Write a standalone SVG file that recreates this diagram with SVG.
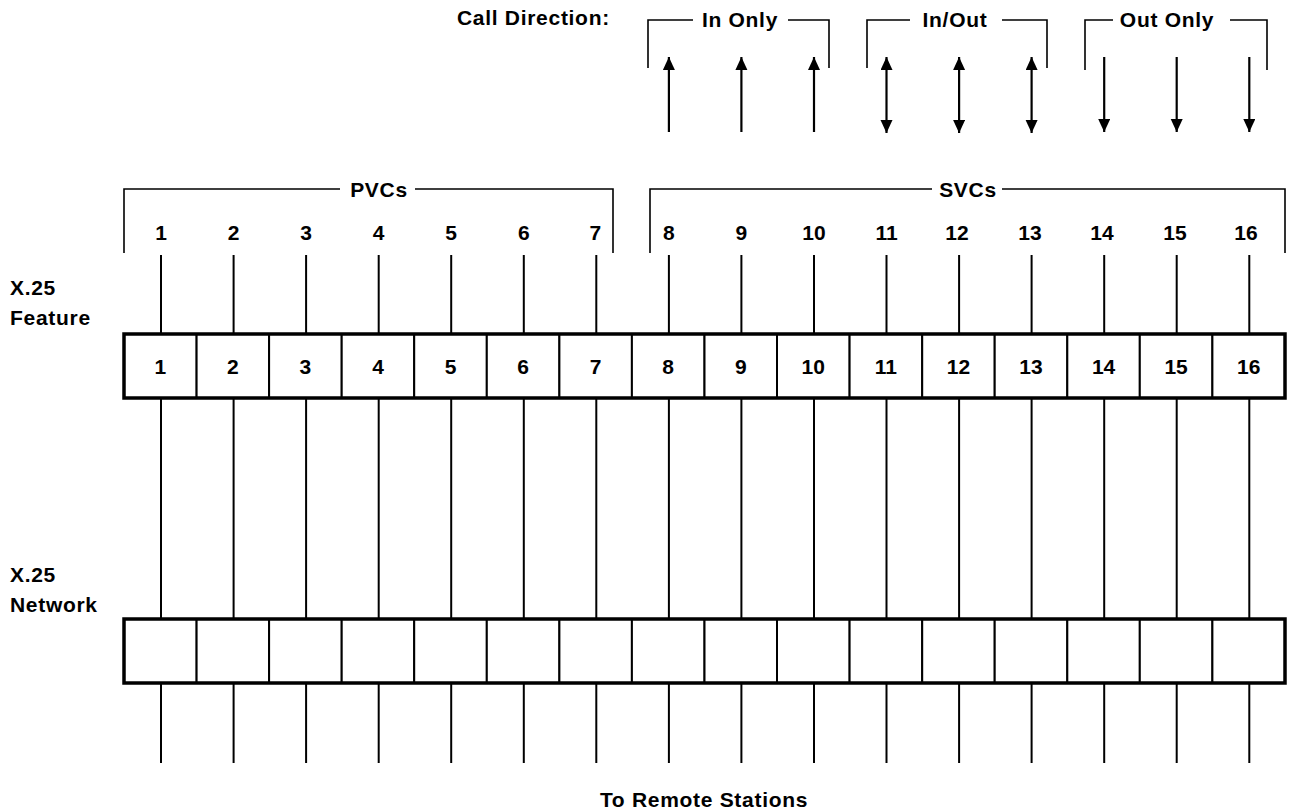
<svg xmlns="http://www.w3.org/2000/svg" width="1291" height="812" viewBox="0 0 1291 812">
<style>
text{font-family:"Liberation Sans",Arial,sans-serif;fill:#000;font-weight:bold;}
.w{font-size:21px;letter-spacing:0.7px;}
.d{font-size:21px;text-anchor:middle;}
.b{font-size:21px;text-anchor:middle;}
.m{text-anchor:middle;}
.br{fill:none;stroke:#000;stroke-width:1.6;}
.ln{stroke:#000;stroke-width:2;fill:none;}
.cell{fill:#fff;stroke:#000;stroke-width:2;}
.frame{fill:none;stroke:#000;stroke-width:3.5;}
.ar{stroke:#000;stroke-width:2.2;fill:none;}
</style>
<defs>
<marker id="ah" markerUnits="userSpaceOnUse" markerWidth="14" markerHeight="13" refX="13" refY="6" orient="auto-start-reverse">
<path d="M0,0 L13,6 L0,12 z" fill="#000"/>
</marker>
</defs>
<rect width="1291" height="812" fill="#fff"/>

<g id="call-direction">
<text class="w" x="457" y="25">Call Direction:</text>
</g>
<g id="bracket-in-only">
<path class="br" d="M648,68 V20 H693 M788,20 H829 V68"/>
<text class="w m" x="740" y="27">In Only</text>
</g>
<g id="bracket-in-out">
<path class="br" d="M867,68 V20 H910 M1002,20 H1047 V68"/>
<text class="w m" x="955" y="27">In/Out</text>
</g>
<g id="bracket-out-only">
<path class="br" d="M1085,70 V20 H1113 M1230,20 H1267 V70"/>
<text class="w m" x="1167" y="27">Out Only</text>
</g>

<g id="bracket-pvcs">
<path class="br" d="M124,253 V189 H340 M415,189 H613 V253"/>
<text class="w m" x="379" y="197">PVCs</text>
</g>
<g id="bracket-svcs">
<path class="br" d="M650,253 V189 H932 M1002,189 H1285 V253"/>
<text class="w m" x="968" y="197">SVCs</text>
</g>

<g id="channel-numbers">
<text class="d" x="161" y="240">1</text>
<text class="d" x="233.6" y="240">2</text>
<text class="d" x="306.1" y="240">3</text>
<text class="d" x="378.7" y="240">4</text>
<text class="d" x="451.2" y="240">5</text>
<text class="d" x="523.8" y="240">6</text>
<text class="d" x="595.3" y="240">7</text>
<text class="d" x="668.9" y="240">8</text>
<text class="d" x="741.4" y="240">9</text>
<text class="d" x="814" y="240">10</text>
<text class="d" x="886.5" y="240">11</text>
<text class="d" x="957" y="240">12</text>
<text class="d" x="1030" y="240">13</text>
<text class="d" x="1102" y="240">14</text>
<text class="d" x="1175" y="240">15</text>
<text class="d" x="1246" y="240">16</text>
</g>

<g id="label-feature">
<text class="w" x="10" y="295">X.25</text>
<text class="w" x="10" y="325">Feature</text>
</g>
<g id="label-network">
<text class="w" x="10" y="582">X.25</text>
<text class="w" x="10" y="612">Network</text>
</g>

<g id="feature-row">
<g id="f1"><rect class="cell" x="124" y="334" width="72.6" height="64"/><text class="b" x="160.3" y="374">1</text></g>
<g id="f2"><rect class="cell" x="196.6" y="334" width="72.5" height="64"/><text class="b" x="232.9" y="374">2</text></g>
<g id="f3"><rect class="cell" x="269.1" y="334" width="72.6" height="64"/><text class="b" x="305.4" y="374">3</text></g>
<g id="f4"><rect class="cell" x="341.7" y="334" width="72.5" height="64"/><text class="b" x="378" y="374">4</text></g>
<g id="f5"><rect class="cell" x="414.2" y="334" width="72.6" height="64"/><text class="b" x="450.5" y="374">5</text></g>
<g id="f6"><rect class="cell" x="486.8" y="334" width="72.6" height="64"/><text class="b" x="523.1" y="374">6</text></g>
<g id="f7"><rect class="cell" x="559.4" y="334" width="72.5" height="64"/><text class="b" x="595.7" y="374">7</text></g>
<g id="f8"><rect class="cell" x="631.9" y="334" width="72.6" height="64"/><text class="b" x="668.2" y="374">8</text></g>
<g id="f9"><rect class="cell" x="704.5" y="334" width="72.5" height="64"/><text class="b" x="740.8" y="374">9</text></g>
<g id="f10"><rect class="cell" x="777" y="334" width="72.6" height="64"/><text class="b" x="813.3" y="374">10</text></g>
<g id="f11"><rect class="cell" x="849.6" y="334" width="72.6" height="64"/><text class="b" x="885.9" y="374">11</text></g>
<g id="f12"><rect class="cell" x="922.2" y="334" width="72.5" height="64"/><text class="b" x="958.5" y="374">12</text></g>
<g id="f13"><rect class="cell" x="994.7" y="334" width="72.6" height="64"/><text class="b" x="1031" y="374">13</text></g>
<g id="f14"><rect class="cell" x="1067.3" y="334" width="72.5" height="64"/><text class="b" x="1103.6" y="374">14</text></g>
<g id="f15"><rect class="cell" x="1139.8" y="334" width="72.6" height="64"/><text class="b" x="1176.1" y="374">15</text></g>
<g id="f16"><rect class="cell" x="1212.4" y="334" width="72.6" height="64"/><text class="b" x="1248.7" y="374">16</text></g>
<rect class="frame" x="124" y="334" width="1161" height="64"/>
</g>

<g id="network-row">
<g id="n1"><rect class="cell" x="124" y="619" width="72.6" height="64"/></g>
<g id="n2"><rect class="cell" x="196.6" y="619" width="72.5" height="64"/></g>
<g id="n3"><rect class="cell" x="269.1" y="619" width="72.6" height="64"/></g>
<g id="n4"><rect class="cell" x="341.7" y="619" width="72.5" height="64"/></g>
<g id="n5"><rect class="cell" x="414.2" y="619" width="72.6" height="64"/></g>
<g id="n6"><rect class="cell" x="486.8" y="619" width="72.6" height="64"/></g>
<g id="n7"><rect class="cell" x="559.4" y="619" width="72.5" height="64"/></g>
<g id="n8"><rect class="cell" x="631.9" y="619" width="72.6" height="64"/></g>
<g id="n9"><rect class="cell" x="704.5" y="619" width="72.5" height="64"/></g>
<g id="n10"><rect class="cell" x="777" y="619" width="72.6" height="64"/></g>
<g id="n11"><rect class="cell" x="849.6" y="619" width="72.6" height="64"/></g>
<g id="n12"><rect class="cell" x="922.2" y="619" width="72.5" height="64"/></g>
<g id="n13"><rect class="cell" x="994.7" y="619" width="72.6" height="64"/></g>
<g id="n14"><rect class="cell" x="1067.3" y="619" width="72.5" height="64"/></g>
<g id="n15"><rect class="cell" x="1139.8" y="619" width="72.6" height="64"/></g>
<g id="n16"><rect class="cell" x="1212.4" y="619" width="72.6" height="64"/></g>
<rect class="frame" x="124" y="619" width="1161" height="64"/>
</g>

<g id="connectors">
<path class="ln" d="M161,255V334 M233.6,255V334 M306.1,255V334 M378.7,255V334 M451.2,255V334 M523.8,255V334 M596.3,255V334 M668.9,255V334 M741.4,255V334 M814,255V334 M886.5,255V334 M959.1,255V334 M1031.6,255V334 M1104.2,255V334 M1176.7,255V334 M1249.3,255V334"/>
<path class="ln" d="M161,398V619 M233.6,398V619 M306.1,398V619 M378.7,398V619 M451.2,398V619 M523.8,398V619 M596.3,398V619 M668.9,398V619 M741.4,398V619 M814,398V619 M886.5,398V619 M959.1,398V619 M1031.6,398V619 M1104.2,398V619 M1176.7,398V619 M1249.3,398V619"/>
<path class="ln" d="M161,683V763 M233.6,683V763 M306.1,683V763 M378.7,683V763 M451.2,683V763 M523.8,683V763 M596.3,683V763 M668.9,683V763 M741.4,683V763 M814,683V763 M886.5,683V763 M959.1,683V763 M1031.6,683V763 M1104.2,683V763 M1176.7,683V763 M1249.3,683V763"/>
<line class="ar" x1="668.9" y1="132" x2="668.9" y2="57" marker-end="url(#ah)"/>
<line class="ar" x1="741.4" y1="132" x2="741.4" y2="57" marker-end="url(#ah)"/>
<line class="ar" x1="814" y1="132" x2="814" y2="57" marker-end="url(#ah)"/>
<line class="ar" x1="886.5" y1="57" x2="886.5" y2="133" marker-start="url(#ah)" marker-end="url(#ah)"/>
<line class="ar" x1="959.1" y1="57" x2="959.1" y2="133" marker-start="url(#ah)" marker-end="url(#ah)"/>
<line class="ar" x1="1031.6" y1="57" x2="1031.6" y2="133" marker-start="url(#ah)" marker-end="url(#ah)"/>
<line class="ar" x1="1104.2" y1="57" x2="1104.2" y2="132" marker-end="url(#ah)"/>
<line class="ar" x1="1176.7" y1="57" x2="1176.7" y2="132" marker-end="url(#ah)"/>
<line class="ar" x1="1249.3" y1="57" x2="1249.3" y2="132" marker-end="url(#ah)"/>
</g>

<g id="label-remote">
<text class="w m" x="704" y="807">To Remote Stations</text>
</g>
</svg>
